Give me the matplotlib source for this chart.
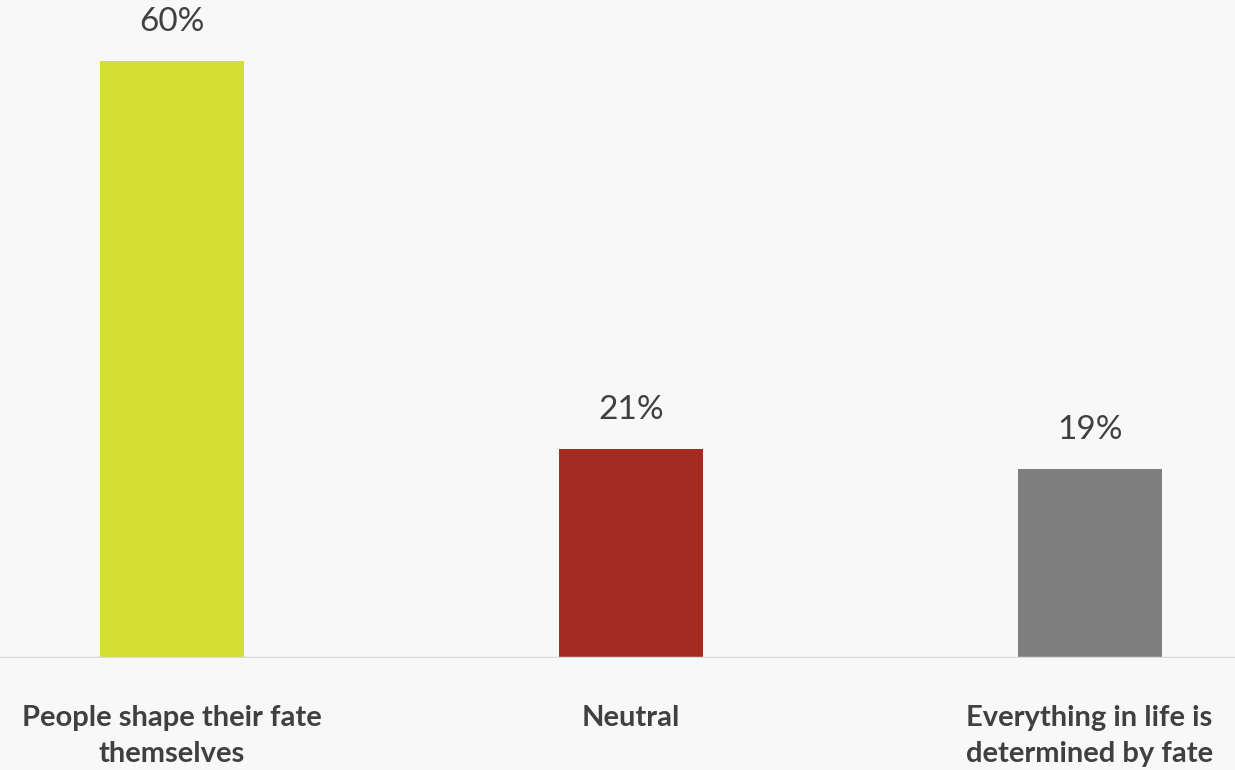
import matplotlib.pyplot as plt

categories = ['People shape their fate\nthemselves', 'Neutral',
              'Everything in life is\ndetermined by fate']
values = [60, 21, 19]
colors = ['#d4df33', '#a52a21', '#7f7f7f']


def main():
    plt.rcParams['font.family'] = ['Lato', 'DejaVu Sans']
    fig = plt.figure(figsize=(12.35, 7.7), dpi=100, facecolor='#f8f8f8')
    ax = fig.add_axes([0, 0.1455, 1, 0.8545])
    ax.set_facecolor('#f8f8f8')

    x = list(range(len(values)))
    ax.bar(x, values, width=0.314, color=colors, zorder=2)
    ax.axhline(0, color='#d9d9d9', linewidth=2.5, zorder=3)

    for xi, v in zip(x, values):
        ax.text(xi, v + 2.4, f'{v}%', ha='center', va='bottom',
                fontsize=24, color='#404040')

    ax.set_xlim(-0.375, 2.317)
    ax.set_ylim(0, 66.1)
    ax.set_xticks(x)
    ax.set_xticklabels(categories, fontsize=21, fontweight='bold',
                       color='#404040', linespacing=1.45)
    ax.tick_params(axis='x', length=0, pad=34)
    ax.set_yticks([])
    for s in ax.spines.values():
        s.set_visible(False)

    fig.savefig('out.png', dpi=100, facecolor=fig.get_facecolor())


if __name__ == '__main__':
    main()
